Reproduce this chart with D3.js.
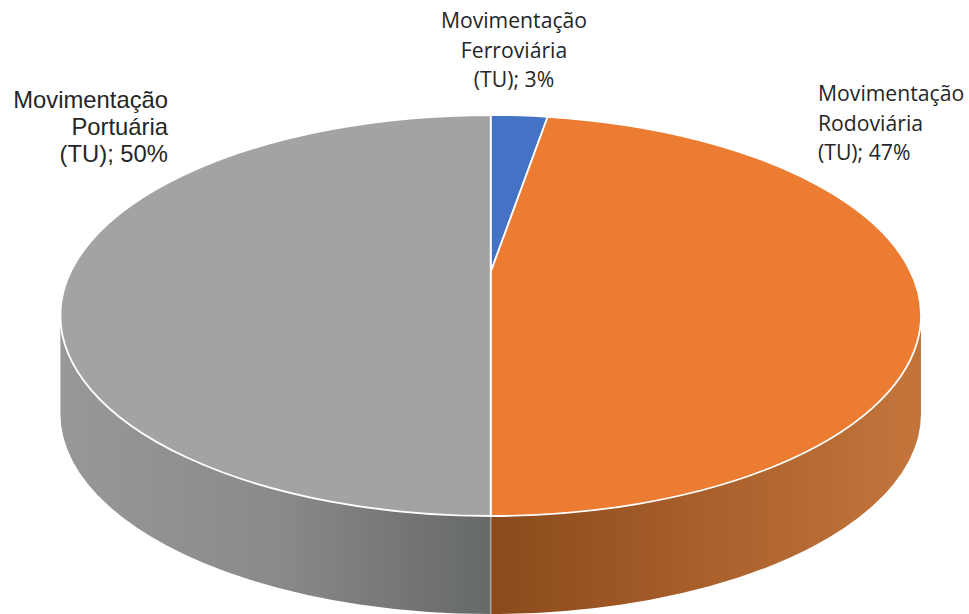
<!DOCTYPE html>
<html lang="pt">
<head>
<meta charset="utf-8">
<script src="https://cdn.jsdelivr.net/npm/d3@7"></script>
<style>
html,body{margin:0;padding:0;background:#fff;overflow:hidden}
svg{display:block}
</style>
</head>
<body>
<svg id="chart" width="969" height="614"></svg>
<script>
const categories = ["Movimentação Ferroviária (TU)", "Movimentação Rodoviária (TU)", "Movimentação Portuária (TU)"];
const values = [3, 47, 50];
const colors = ["#4472C4", "#EB7C31", "#A3A3A3"];
const labelLines = [
  ["Movimentação", "Ferroviária", "(TU); 3%"],
  ["Movimentação", "Rodoviária", "(TU); 47%"],
  ["Movimentação", "Portuária", "(TU); 50%"]
];

const W = 969, H = 614;
const cx = 490.7, cy = 315.5, rx = 430.3, ry = 200.5, depth = 98;
const persp = 0.70;      // foreshortening of angles near the far edge
const apexY = 272;       // where the small slice's wedge tip lands on the axis

const svg = d3.select("#chart").attr("viewBox", [0, 0, W, H]);
const defs = svg.append("defs");

function grad(id, stops) {
  const g = defs.append("linearGradient").attr("id", id)
    .attr("gradientUnits", "userSpaceOnUse")
    .attr("x1", cx - rx).attr("x2", cx + rx).attr("y1", 0).attr("y2", 0);
  stops.forEach(s => g.append("stop").attr("offset", s[0]).attr("stop-color", s[1]));
}
grad("sideGray", [[0, "#989898"], [0.25, "#8a8a8a"], [0.5, "#656967"], [1, "#656967"]]);
grad("sideOrange", [[0, "#8a4a1c"], [0.5, "#8a4a1c"], [0.75, "#a9602b"], [0.98, "#c2743b"], [1, "#c2743b"]]);

const pie = d3.pie().sort(null).value(d => d);
const arcs = pie(values);

const proj = a => {
  const t = Math.atan2(persp * Math.sin(a), Math.cos(a));
  const tt = t < -1e-6 ? t + 2 * Math.PI : t;
  return { t: tt, x: cx + rx * Math.sin(tt), y: cy - ry * Math.cos(tt) };
};
const arcTo = p => `A${rx},${ry} 0 0 1 ${p.x},${p.y}`;

function wedgePath(d, i) {
  const s = proj(d.startAngle);
  const e = proj(d.endAngle);
  const mid = proj((d.startAngle + d.endAngle) / 2);
  const ay = (i === 0 || i === 1) ? apexY : cy;
  return `M${cx},${ay} L${s.x},${s.y} ${arcTo(mid)} ${arcTo(e)} ${i === 1 ? `L${cx},${cy}` : ""} Z`;
}

// Outer wall (front half only): lower half of the ellipse pushed down by depth
function sidePath(d) {
  const a0 = Math.max(d.startAngle, Math.PI / 2), a1 = Math.min(d.endAngle, 3 * Math.PI / 2);
  if (a1 <= a0) return null;
  const p0 = proj(a0), p1 = proj(a1);
  const m = proj((a0 + a1) / 2);
  return `M${p0.x},${p0.y} ${arcTo(m)} ${arcTo(p1)} L${p1.x},${p1.y + depth} ` +
    `A${rx},${ry} 0 0 0 ${m.x},${m.y + depth} A${rx},${ry} 0 0 0 ${p0.x},${p0.y + depth} Z`;
}
const walls = arcs.map((d, i) => ({ d, i, path: sidePath(d) })).filter(w => w.path);
svg.append("g").selectAll("path").data(walls).join("path")
  .attr("d", w => w.path)
  .attr("fill", w => w.i === 2 ? "url(#sideGray)" : "url(#sideOrange)");

// Divider between the two walls
const front = proj(arcs[2].startAngle);
svg.append("line")
  .attr("x1", front.x).attr("x2", front.x)
  .attr("y1", front.y).attr("y2", front.y + depth)
  .attr("stroke", "#a3a3a3").attr("stroke-width", 1.6);

// Top face
svg.append("g").selectAll("path").data(arcs).join("path")
  .attr("d", (d, i) => wedgePath(d, i))
  .attr("fill", (d, i) => colors[i])
  .attr("stroke", "#fff").attr("stroke-width", 1.8).attr("stroke-linejoin", "round");

// Labels
const labelFont = ["'Open Sans'", "'Open Sans'", "'Liberation Sans'"];
const labelSize = [21.2, 21.2, 23.8];
const labelPos = [
  { x: 514, y: 28, anchor: "middle", dy: 29.5 },
  { x: 818, y: 101, anchor: "start", dy: 29.5 },
  { x: 168, y: 108, anchor: "end", dy: 27 }
];
labelLines.forEach((lines, i) => {
  const p = labelPos[i];
  const t = svg.append("text")
    .attr("font-family", labelFont[i])
    .attr("font-size", labelSize[i])
    .attr("fill", "#262626")
    .attr("text-anchor", p.anchor)
    .attr("aria-label", categories[i]);
  lines.forEach((line, j) => {
    t.append("tspan").attr("x", p.x).attr("y", p.y + j * p.dy).text(line);
  });
});
</script>
</body>
</html>
